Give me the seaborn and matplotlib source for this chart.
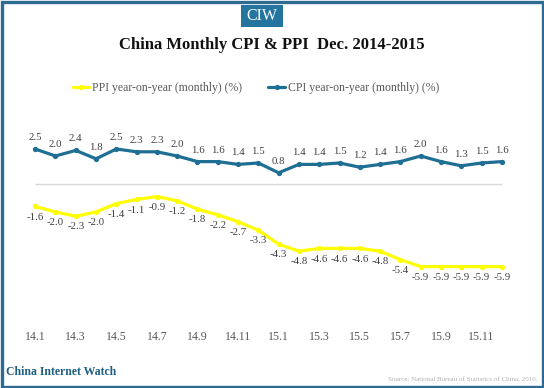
import matplotlib
matplotlib.use("Agg")
import matplotlib.pyplot as plt
import seaborn as sns
import pandas as pd
from matplotlib.patches import Rectangle

months = ["14.1","14.2","14.3","14.4","14.5","14.6","14.7","14.8","14.9","14.10","14.11","14.12",
          "15.1","15.2","15.3","15.4","15.5","15.6","15.7","15.8","15.9","15.10","15.11","15.12"]
cpi = [2.5, 2.0, 2.4, 1.8, 2.5, 2.3, 2.3, 2.0, 1.6, 1.6, 1.4, 1.5,
       0.8, 1.4, 1.4, 1.5, 1.2, 1.4, 1.6, 2.0, 1.6, 1.3, 1.5, 1.6]
ppi = [-1.6, -2.0, -2.3, -2.0, -1.4, -1.1, -0.9, -1.2, -1.8, -2.2, -2.7, -3.3,
       -4.3, -4.8, -4.6, -4.6, -4.6, -4.8, -5.4, -5.9, -5.9, -5.9, -5.9, -5.9]
ppi_name = "PPI year-on-year (monthly) (%)"
cpi_name = "CPI year-on-year (monthly) (%)"

CPI_COL = "#1f6e93"
PPI_COL = "#ffff00"
TXT = "#595959"
SERIF = ["Liberation Serif", "DejaVu Serif"]

sns.set_theme(style="white")
plt.rcParams["font.family"] = SERIF

idx = list(range(len(months)))
df = pd.DataFrame({
    "i": idx + idx,
    "v": ppi + cpi,
    "s": [ppi_name] * len(idx) + [cpi_name] * len(idx),
})

W, H = 544, 388
fig = plt.figure(figsize=(W / 100, H / 100), dpi=100)
fig.patch.set_facecolor("white")

# axes: x index -0.5..23.5 -> px 25..512 ; y -10..4 -> px 324..128
ax = fig.add_axes([25 / W, 1 - 324 / H, 487 / W, 196 / H])
ax.hlines(0, idx[0], idx[-1], color="#d9d9d9", lw=1, zorder=1)
sns.lineplot(data=df, x="i", y="v", hue="s", palette={ppi_name: PPI_COL, cpi_name: CPI_COL},
             marker="o", markersize=3.8, markeredgewidth=0, linewidth=2.3, ax=ax, zorder=3)
ax.set_xlim(-0.5, 23.5)
ax.set_ylim(-10, 4)
ax.set_xticks(idx[::2])
ax.set_xticklabels(months[::2], fontsize=8.6, color=TXT)
ax.tick_params(axis="x", length=0, pad=5)
ax.set_yticks([])
ax.set_xlabel("")
ax.set_ylabel("")
for s in ax.spines.values():
    s.set_visible(False)
ax.patch.set_alpha(0)

for i, v in enumerate(cpi):
    ax.annotate(f"{v:.1f}", (i, v), xytext=(0, 5), textcoords="offset points",
                ha="center", va="bottom", fontsize=7.8, color="#404040")
for i, v in enumerate(ppi):
    ax.annotate(f"{v:.1f}", (i, v), xytext=(0, -4.5), textcoords="offset points",
                ha="center", va="top", fontsize=7.8, color="#404040")

ax.legend_.remove()
h, l = ax.get_legend_handles_labels()
leg = fig.legend(h, l, loc="center", bbox_to_anchor=(256 / W, 1 - 88 / H), ncol=2,
                 frameon=False, fontsize=8.5, handlelength=1.4, columnspacing=2.2,
                 handletextpad=0.25, labelcolor=TXT)

fig.text(0.5, 1 - 45 / H, "China Monthly CPI & PPI  Dec. 2014-2015", ha="center", va="center",
         fontsize=12, fontweight="bold", color="#111111")

# CIW badge
fig.patches.append(Rectangle((241 / W, 1 - 27 / H), 42 / W, 22 / H, transform=fig.transFigure,
                             facecolor="#2474a0", edgecolor="none", zorder=5))
fig.text(262 / W, 1 - 16 / H, "CIW", ha="center", va="center", fontsize=11.5, color="white", zorder=6)

fig.text(6 / W, 1 - 372 / H, "China Internet Watch", ha="left", va="center", fontsize=8.5,
         fontweight="bold", color="#1f5f80")
fig.text(538 / W, 1 - 380 / H, "Source: National Bureau of Statistics of China, 2016.", ha="right",
         va="center", fontsize=5, color="#b0b0b0")

# frame
fig.patches.append(Rectangle((1.5 / W, 1.5 / H), (W - 3) / W, (H - 3) / H, transform=fig.transFigure,
                             facecolor="none", edgecolor="#2d6b91", linewidth=2.4, zorder=10))

fig.savefig("out.png", dpi=100)
